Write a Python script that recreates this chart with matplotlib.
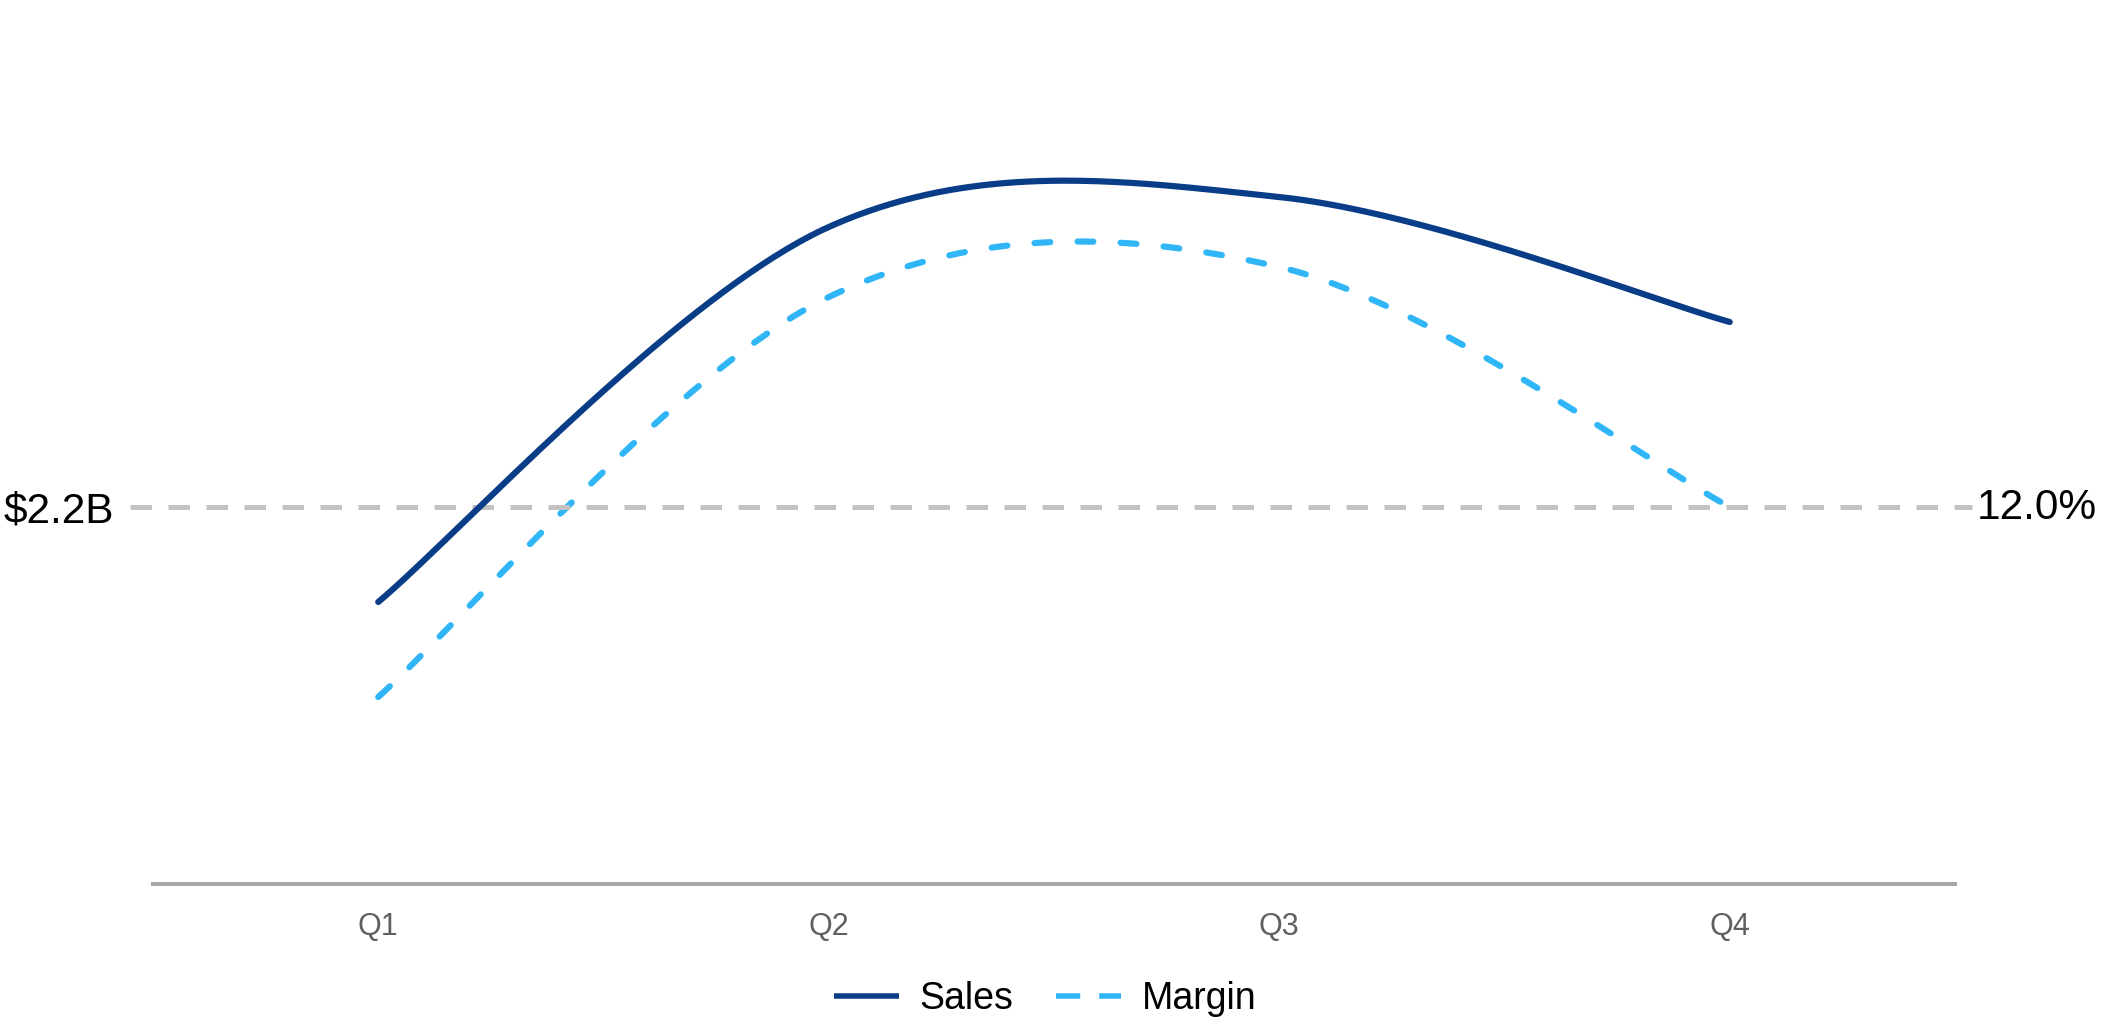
import numpy as np
import matplotlib
matplotlib.use("Agg")
import matplotlib.pyplot as plt
from matplotlib.lines import Line2D

plt.rcParams["font.family"] = ["Liberation Sans", "DejaVu Sans"]

# Quarterly data
quarters = ["Q1", "Q2", "Q3", "Q4"]
sales = [2.01, 2.76, 2.82, 2.57]      # $B
margin = [10.1, 14.1, 14.4, 12.0]     # %
sales_ref = 2.2
margin_ref = 12.0
sales_lim = (1.446, 3.0)
margin_lim = (8.23, 16.0)

SALES_COLOR = "#0a3d87"
MARGIN_COLOR = "#30b5f7"
REF_COLOR = "#c2c2c2"
AXIS_COLOR = "#a8a8a8"

DPI = 100
W, H = 2103, 1024
PX = 72.0 / DPI  # points per pixel


def cardinal_curve(xs, ys, n=80):
    """Cardinal (tension 0) spline through the points, drawn as cubic Beziers."""
    P = np.column_stack([xs, ys]).astype(float)
    Pp = np.vstack([P[0], P, P[-1]])
    t = np.linspace(0, 1, n)[:, None]
    out = []
    for i in range(len(P) - 1):
        p0, p1, p2, p3 = Pp[i], Pp[i + 1], Pp[i + 2], Pp[i + 3]
        c1 = p1 + (p2 - p0) / 6.0
        c2 = p2 - (p3 - p1) / 6.0
        seg = ((1 - t) ** 3) * p1 + 3 * ((1 - t) ** 2) * t * c1 \
            + 3 * (1 - t) * t ** 2 * c2 + t ** 3 * p2
        out.append(seg if i == 0 else seg[1:])
    seg = np.vstack(out)
    return seg[:, 0], seg[:, 1]


fig = plt.figure(figsize=(W / DPI, H / DPI), dpi=DPI)
ax = fig.add_axes([153 / W, 140 / H, 1802 / W, 777 / H])
ax2 = ax.twinx()

x = np.arange(len(quarters))

# Reference line shared by both scales
ax.axhline(sales_ref, xmin=-0.0128, xmax=1.0094, clip_on=False,
           color=REF_COLOR, lw=5 * PX, ls=(0, (4.3, 3.3)),
           dash_capstyle="butt", zorder=1)

LW = 6.2 * PX
sx, sy = cardinal_curve(x, sales)
ax.plot(sx, sy, color=SALES_COLOR, lw=LW, solid_capstyle="round",
        solid_joinstyle="round", zorder=3)

mx, my = cardinal_curve(x, margin)
ax2.plot(mx, my, color=MARGIN_COLOR, lw=LW, ls=(0, (2.55, 4.4)),
         dash_capstyle="round", zorder=2)

ax.set_xlim(-0.5, 3.5)
ax.set_ylim(*sales_lim)
ax2.set_ylim(*margin_lim)
ax.set_zorder(ax2.get_zorder() + 1)
ax.patch.set_visible(False)

ax.set_xticks(x)
ax.set_xticklabels(quarters, fontsize=22, color="#606060")
ax.tick_params(axis="x", length=0, pad=20)
ax.set_yticks([])
ax2.set_yticks([])
for s in ["left", "right", "top"]:
    ax.spines[s].set_visible(False)
for s in ax2.spines.values():
    s.set_visible(False)
ax.spines["bottom"].set_color(AXIS_COLOR)
ax.spines["bottom"].set_linewidth(4 * PX)

# Reference labels at both ends
ax.annotate(f"${sales_ref:.1f}B", xy=(4, sales_ref),
            xycoords=("figure pixels", "data"), xytext=(0, -3),
            textcoords="offset points", ha="left", va="center",
            fontsize=30.5, color="black", annotation_clip=False)
ax2.annotate(f"{margin_ref:.1f}%", xy=(2097, margin_ref),
             xycoords=("figure pixels", "data"), xytext=(0, -1),
             textcoords="offset points", ha="right", va="center",
             fontsize=30.5, color="black", annotation_clip=False)

handles = [
    Line2D([], [], color=SALES_COLOR, lw=5.5 * PX, solid_capstyle="butt"),
    Line2D([], [], color=MARGIN_COLOR, lw=5.5 * PX, ls=(0, (4.4, 3.45)),
           dash_capstyle="butt"),
]
fig.legend(handles, ["Sales", "Margin"], loc="center",
           bbox_to_anchor=(1045 / W, 1 - 999 / H), ncol=2, frameon=False,
           fontsize=27, handlelength=1.73, handletextpad=0.54,
           columnspacing=1.16, borderpad=0)

fig.savefig("out.png", dpi=DPI)
